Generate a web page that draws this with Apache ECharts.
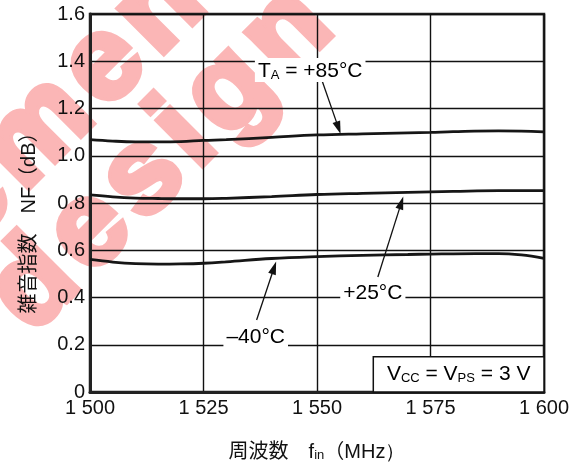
<!DOCTYPE html>
<html>
<head>
<meta charset="utf-8">
<script src="https://cdn.jsdelivr.net/npm/echarts@6/dist/echarts.min.js"></script>
<style>
  html, body { margin: 0; padding: 0; background: #fff; }
  #chart { width: 586px; height: 468px; }
</style>
</head>
<body>
<div id="chart"></div>
<script>
// Noise figure vs. input frequency at three ambient temperatures (Vcc = Vps = 3 V)
const freqMHz = [1500, 1505, 1510, 1515, 1520, 1525, 1530, 1540, 1550, 1560, 1570, 1575, 1580, 1590, 1595, 1600];
const nfHot   = [1.068, 1.062, 1.059, 1.059, 1.060, 1.065, 1.068, 1.078, 1.088, 1.093, 1.097, 1.099, 1.102, 1.105, 1.104, 1.101];
const nfRoom  = [0.834, 0.826, 0.821, 0.819, 0.818, 0.818, 0.820, 0.827, 0.836, 0.841, 0.845, 0.847, 0.849, 0.852, 0.852, 0.852];
const nfCold  = [0.561, 0.550, 0.543, 0.541, 0.542, 0.545, 0.551, 0.565, 0.573, 0.578, 0.582, 0.584, 0.585, 0.586, 0.580, 0.566];

const xTickLabels = ['1 500', '1 525', '1 550', '1 575', '1 600'];
const yTickLabels = ['0', '0.2', '0.4', '0.6', '0.8', '1.0', '1.2', '1.4', '1.6'];

// Curve callouts: label anchor and arrow tail/head in data units
const callouts = [
  { text: '{n|T}{s|A}{n| = +85°C}', at: [1548.5, 1.363], tail: [1551.2, 1.313], head: [1555.2, 1.092], pad: [3, 3, 0, 3] },
  { text: '{n|+25°C}',              at: [1562.3, 0.417], tail: [1563.4, 0.487], head: [1569.0, 0.827], pad: [0, 3, 0, 3] },
  { text: '{n|–40°C}',              at: [1536.5, 0.231], tail: [1536.7, 0.305], head: [1541.0, 0.552], pad: [0, 3, 0, 3] }
];
const conditionBox = { from: [1562.4, 0.149], to: [1600, 0], text: '{n|V}{s|CC}{n| = V}{s|PS}{n| = 3 V}' };

const FONT = '"Liberation Sans", Arial, Helvetica, sans-serif';
const CJK = '"Liberation Sans", "Noto Sans CJK JP", sans-serif';
const ink = '#111';

const pairs = ys => freqMHz.map((f, i) => [f, ys[i]]);
const curve = ys => ({
  type: 'line',
  data: pairs(ys),
  smooth: 0.4,
  symbol: 'none',
  lineStyle: { color: '#161616', width: 2.8 },
  z: 3
});

const chart = echarts.init(document.getElementById('chart'), null, { renderer: 'canvas' });

chart.setOption({
  animation: false,
  backgroundColor: '#fff',
  grid: { left: 90, right: 42, top: 14, bottom: 76, show: true, borderColor: '#222', borderWidth: 2.5 },
  xAxis: {
    type: 'value', min: 1500, max: 1600, interval: 25,
    name: '{c|周波数　}{n|f}{s|in}{c|（}{n|MHz）}',
    nameLocation: 'middle', nameGap: 50,
    nameTextStyle: {
      rich: {
        c: { fontFamily: CJK, fontSize: 20, color: ink, verticalAlign: 'bottom' },
        n: { fontFamily: FONT, fontSize: 20, color: ink, verticalAlign: 'bottom' },
        s: { fontFamily: FONT, fontSize: 13, color: ink, verticalAlign: 'bottom' }
      }
    },
    axisLine: { lineStyle: { color: '#222', width: 3 } },
    axisTick: { show: false },
    axisLabel: {
      margin: 6, color: ink, fontFamily: FONT, fontSize: 20,
      formatter: v => xTickLabels[Math.round((v - 1500) / 25)]
    },
    splitLine: { show: true, lineStyle: { color: ink, width: 1.4 } }
  },
  yAxis: {
    type: 'value', min: 0, max: 1.6, interval: 0.2,
    name: '雑音指数　NF（dB）',
    nameLocation: 'middle', nameGap: 51,
    nameTextStyle: { fontFamily: CJK, fontSize: 20, color: ink, padding: [0, 30, 0, 0] },
    axisLine: { show: true, lineStyle: { color: '#222', width: 3 } },
    axisTick: { show: false },
    axisLabel: {
      margin: 5, color: ink, fontFamily: FONT, fontSize: 20,
      formatter: v => yTickLabels[Math.round(v / 0.2)]
    },
    splitLine: { show: true, lineStyle: { color: ink, width: 1.4 } }
  },
  series: [curve(nfHot), curve(nfRoom), curve(nfCold)]
});

// Annotation layer, placed through the grid's own coordinate conversion
const px = p => chart.convertToPixel({ gridIndex: 0 }, p);
const labelRich = {
  n: { fontFamily: FONT, fontSize: 21, color: ink, verticalAlign: 'bottom' },
  s: { fontFamily: FONT, fontSize: 13, color: ink, verticalAlign: 'bottom' }
};

function arrow(tail, head) {
  const [x0, y0] = px(tail), [x1, y1] = px(head);
  const dx = x1 - x0, dy = y1 - y0, len = Math.hypot(dx, dy);
  const ux = dx / len, uy = dy / len, hl = 13, hw = 4;
  const bx = x1 - ux * hl, by = y1 - uy * hl;
  return [
    { type: 'line', z: 20, shape: { x1: x0, y1: y0, x2: bx + ux * 2, y2: by + uy * 2 }, style: { stroke: ink, lineWidth: 1.3 } },
    { type: 'polygon', z: 20, shape: { points: [[x1, y1], [bx - uy * hw, by + ux * hw], [bx + uy * hw, by - ux * hw]] }, style: { fill: ink } }
  ];
}

const graphics = [];

// faint background lettering, set letter by letter with open tracking
function spacedWord(word, cx, cy, angleDeg, size, tracking) {
  const family = '"Liberation Sans", Arial, sans-serif';
  const ctx = document.createElement('canvas').getContext('2d');
  ctx.font = 'bold ' + size + 'px ' + family;
  const widths = [...word].map(ch => ctx.measureText(ch).width);
  const total = widths.reduce((a, b) => a + b, 0) + tracking * (word.length - 1);
  const a = angleDeg * Math.PI / 180, ux = Math.cos(a), uy = -Math.sin(a);
  let s = -total / 2;
  return [...word].map((ch, i) => {
    const c = s + widths[i] / 2;
    s += widths[i] + tracking;
    return {
      type: 'text', z: -5, x: cx + ux * c, y: cy + uy * c, rotation: a,
      style: {
        text: ch, fontFamily: family, fontSize: size, fontWeight: 'bold',
        fill: '#fbb6b6', stroke: '#fbb6b6', lineWidth: 7, lineJoin: 'round',
        align: 'center', verticalAlign: 'middle'
      }
    };
  });
}
graphics.push(...spacedWord('element', 42, 128, 45, 118, 10));
graphics.push(...spacedWord('design', 161, 160, 45, 118, 10));

callouts.forEach(c => {
  const [x, y] = px(c.at);
  graphics.push({
    type: 'text', z: 21, x, y,
    style: { text: c.text, rich: labelRich, align: 'center', verticalAlign: 'middle', backgroundColor: '#fff', padding: c.pad }
  });
  graphics.push(...arrow(c.tail, c.head));
});

const [bx0, by0] = px(conditionBox.from), [bx1, by1] = px(conditionBox.to);
graphics.push(
  { type: 'rect', z: 22, shape: { x: bx0, y: by0, width: bx1 - bx0, height: by1 - by0 }, style: { fill: '#fff', stroke: ink, lineWidth: 1.5 } },
  { type: 'text', z: 23, x: (bx0 + bx1) / 2, y: (by0 + by1) / 2,
    style: { text: conditionBox.text, rich: labelRich, align: 'center', verticalAlign: 'middle' } }
);

chart.setOption({ graphic: graphics });
</script>
</body>
</html>
